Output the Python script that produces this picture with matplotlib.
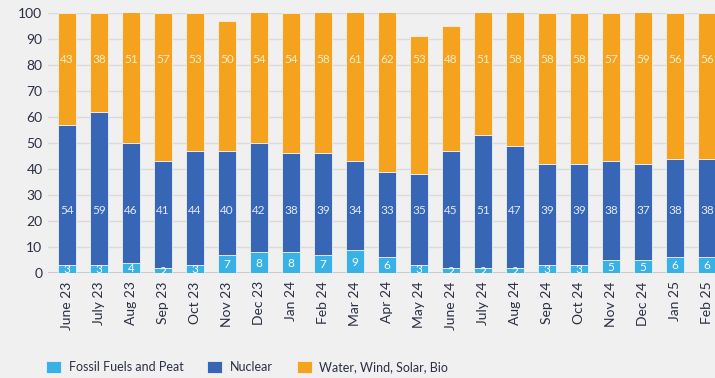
import matplotlib.pyplot as plt
import numpy as np

# Monthly electricity production shares (%)
months = ["June 23", "July 23", "Aug 23", "Sep 23", "Oct 23", "Nov 23", "Dec 23",
          "Jan 24", "Feb 24", "Mar 24", "Apr 24", "May 24", "June 24", "July 24",
          "Aug 24", "Sep 24", "Oct 24", "Nov 24", "Dec 24", "Jan 25", "Feb 25"]
fossil = [3, 3, 4, 2, 3, 7, 8, 8, 7, 9, 6, 3, 2, 2, 2, 3, 3, 5, 5, 6, 6]
nuclear = [54, 59, 46, 41, 44, 40, 42, 38, 39, 34, 33, 35, 45, 51, 47, 39, 39, 38, 37, 38, 38]
renewables = [43, 38, 51, 57, 53, 50, 54, 54, 58, 61, 62, 53, 48, 51, 58, 58, 58, 57, 59, 56, 56]

c_fossil = "#38b2e6"
c_nuclear = "#3866b7"
c_renew = "#f5a31f"
bg = "#f0f0f0"
txt = "#2a2f45"

plt.rcParams["font.family"] = ["Lato", "DejaVu Sans"]

fig = plt.figure(figsize=(7.15, 3.78), dpi=100, facecolor=bg)
ax = fig.add_axes([48 / 715, 1 - 273 / 378, 1 - 48 / 715, 260 / 378])
ax.set_facecolor(bg)

x = np.arange(len(months))
fossil = np.array(fossil)
nuclear = np.array(nuclear)
renewables = np.array(renewables)
w = 0.56

ax.bar(x, fossil, w, color=c_fossil, edgecolor=bg, linewidth=0.6, zorder=3,
       label="Fossil Fuels and Peat")
ax.bar(x, nuclear, w, bottom=fossil, color=c_nuclear, edgecolor=bg, linewidth=0.6,
       zorder=3, label="Nuclear")
ax.bar(x, renewables, w, bottom=fossil + nuclear, color=c_renew, edgecolor=bg,
       linewidth=0.6, zorder=3, label="Water, Wind, Solar, Bio")

# value labels inside the segments
for i in x:
    ax.text(i, fossil[i] / 2 - 0.3, str(fossil[i]), ha="center", va="center",
            fontsize=8.5, color="white", zorder=4)
    ax.text(i, 24, str(nuclear[i]), ha="center", va="center",
            fontsize=8.5, color="#e3eaf7", zorder=4)
    ax.text(i, 82, str(renewables[i]), ha="center", va="center",
            fontsize=8.5, color="#fdebcf", zorder=4)

ax.set_ylim(0, 100)
ax.set_xlim(-0.6, 20.25)
ax.set_yticks(range(0, 101, 10))
ax.set_xticks(x)
ax.set_xticklabels(months, rotation=90)
ax.tick_params(axis="both", length=0, labelsize=10, colors=txt)
ax.tick_params(axis="y", pad=4)
ax.tick_params(axis="x", pad=6)
for s in ax.spines.values():
    s.set_visible(False)
ax.yaxis.grid(True, color="#dadada", linewidth=1, zorder=0)
ax.axhline(0, color="#c4c4c4", linewidth=1.2, zorder=2)

leg = fig.legend(loc="center left", bbox_to_anchor=(35 / 715, 1 - 367 / 378), ncol=3,
                 frameon=False, fontsize=9, handlelength=1.2, handleheight=1.2,
                 columnspacing=1.9, handletextpad=0.6, labelcolor=txt)

plt.savefig("out.png", dpi=100, facecolor=bg)
